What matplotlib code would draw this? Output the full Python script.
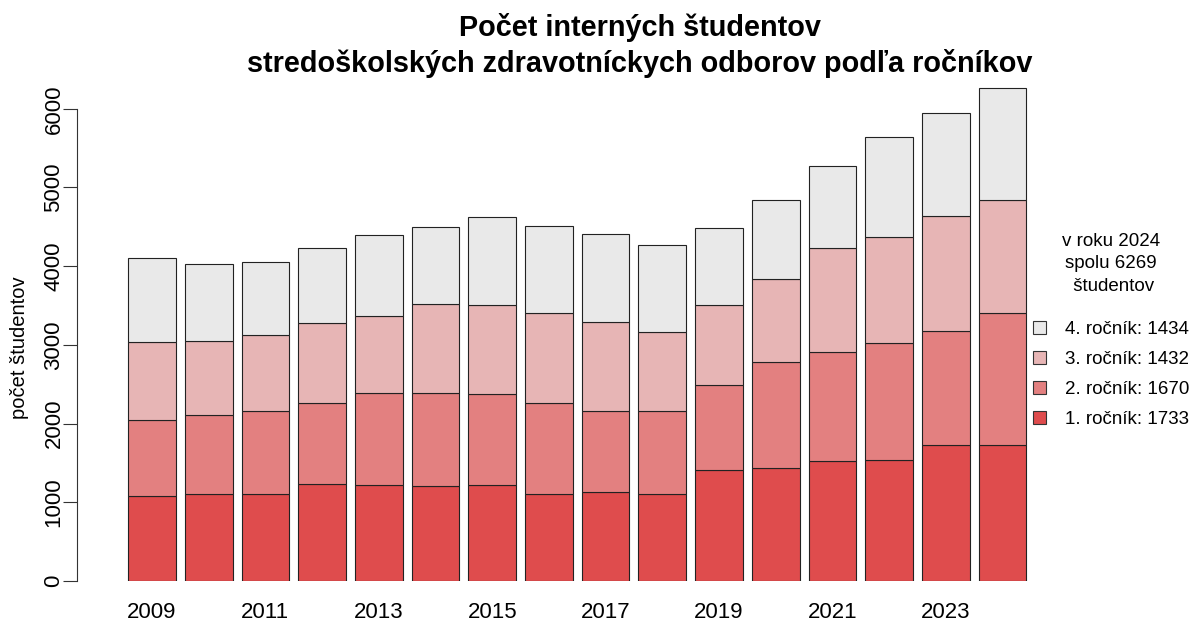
import matplotlib
matplotlib.use("Agg")
import matplotlib.pyplot as plt
from matplotlib.patches import Patch
import numpy as np

plt.rcParams['font.family'] = ['Liberation Sans', 'DejaVu Sans']

years = [2009, 2010, 2011, 2012, 2013, 2014, 2015, 2016,
         2017, 2018, 2019, 2020, 2021, 2022, 2023, 2024]
rocnik1 = [1086, 1111, 1111, 1233, 1217, 1208, 1225, 1111,
           1132, 1111, 1416, 1441, 1530, 1533, 1723, 1733]
rocnik2 = [954, 1001, 1043, 1023, 1166, 1175, 1154, 1157,
           1031, 1052, 1072, 1347, 1385, 1492, 1458, 1670]
rocnik3 = [998, 938, 972, 1026, 988, 1136, 1128, 1141,
           1128, 1001, 1019, 1048, 1314, 1343, 1453, 1432]
rocnik4 = [1072, 980, 925, 955, 1023, 980, 1119, 1103,
           1119, 1103, 983, 1005, 1039, 1268, 1313, 1434]
series = [rocnik1, rocnik2, rocnik3, rocnik4]
series_names = ['1. ročník', '2. ročník', '3. ročník', '4. ročník']
colors = ['#DF4C4D', '#E38080', '#E7B5B5', '#E9E9E9']
yticks = [0, 1000, 2000, 3000, 4000, 5000, 6000]
xtick_years = [2009, 2011, 2013, 2015, 2017, 2019, 2021, 2023]

W, H = 1200, 630
fig = plt.figure(figsize=(W / 100, H / 100), dpi=100)
ax_left, ax_right, ax_bottom, ax_top = 77, 1040, 581, 80
ax = fig.add_axes([ax_left / W, (H - ax_bottom) / H,
                   (ax_right - ax_left) / W, (ax_bottom - ax_top) / H])

x = np.arange(len(years))
bottom = np.zeros(len(years))
for vals, col in zip(series, colors):
    ax.bar(x, vals, width=0.84, bottom=bottom, color=col,
           edgecolor='#222222', linewidth=0.8)
    bottom += np.array(vals)

pitch = 56.7
c0 = 152
ax.set_xlim((ax_left - c0) / pitch, (ax_right - c0) / pitch)
ax.set_ylim(0, (ax_bottom - ax_top) / 0.0787)

for s in ['top', 'right', 'bottom']:
    ax.spines[s].set_visible(False)
ax.spines['left'].set_bounds(0, 6000)
ax.spines['left'].set_color('#333333')
ax.spines['left'].set_linewidth(0.8)

ax.set_yticks(yticks)
ax.set_yticklabels([str(v) for v in yticks], rotation=90, va='center',
                   fontsize=16)
ax.tick_params(axis='y', length=10, width=0.8, color='#333333', pad=-1)

xt = [years.index(y) for y in xtick_years]
ax.set_xticks(xt)
ax.set_xticklabels([str(y) for y in xtick_years], fontsize=16)
ax.tick_params(axis='x', length=0, pad=15)

ax.set_ylabel('počet študentov', fontsize=14.5)
ax.yaxis.set_label_coords((29 - ax_left) / (ax_right - ax_left),
                          (ax_bottom - 348) / (ax_bottom - ax_top))

fig.text(0.533, 1 - 27 / H, 'Počet interných študentov', ha='center',
         va='center', fontsize=20.8, fontweight='bold')
fig.text(0.533, 1 - 63 / H,
         'stredoškolských zdravotníckych odborov podľa ročníkov',
         ha='center', va='center', fontsize=20.8, fontweight='bold')

handles = [Patch(facecolor=c, edgecolor='#333333', linewidth=0.8)
           for c in colors[::-1]]
labels = [f'{n}: {v[-1]}' for n, v in zip(series_names[::-1], series[::-1])]
total = sum(v[-1] for v in series)
leg = fig.legend(handles, labels,
                 title=f'v roku {years[-1]}\nspolu {total}\n študentov',
                 loc='upper left', bbox_to_anchor=(1033 / W, 1 - 233 / H),
                 frameon=False, fontsize=13.5, title_fontsize=13.5,
                 handlelength=0.7, handleheight=0.7, handletextpad=1.0,
                 labelspacing=0.68, borderpad=0, borderaxespad=0)
leg._legend_box.align = 'center'
leg._legend_box.sep = 19
leg.get_title().set_multialignment('center')
leg.get_title().set_linespacing(1.42)

fig.savefig('out.png', dpi=100)
